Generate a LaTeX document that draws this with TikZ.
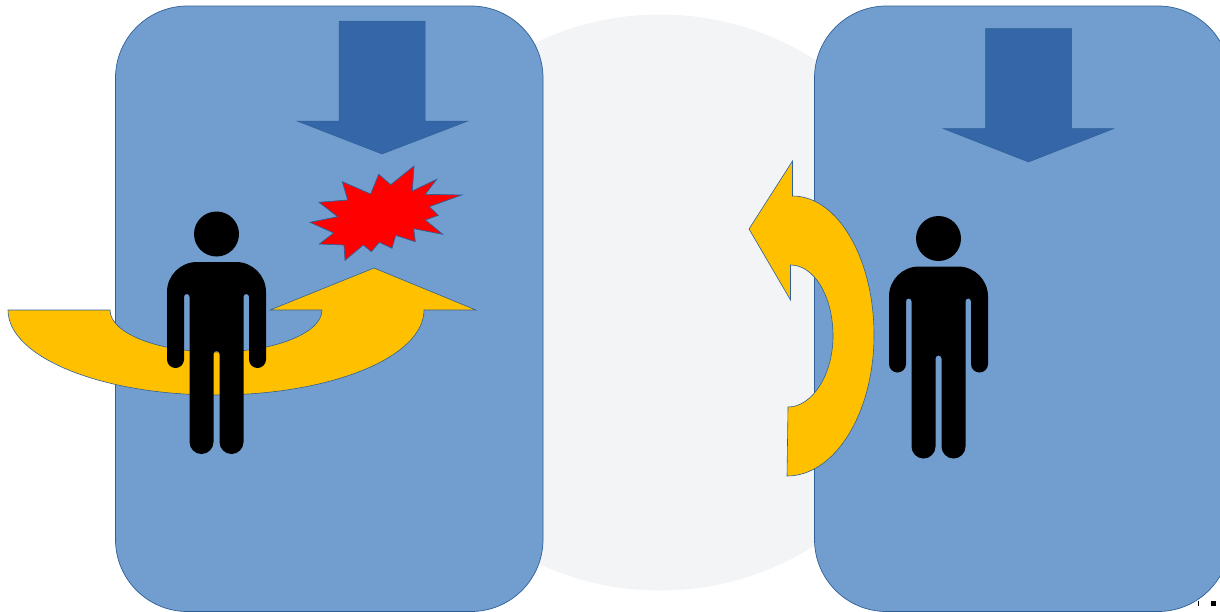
\documentclass[tikz,border=0pt]{standalone}
\usepackage{tikz}
\definecolor{panelblue}{HTML}{729ECF}
\definecolor{edgeblue}{HTML}{2F6097}
\definecolor{dropblue}{HTML}{3566A8}
\definecolor{turngold}{HTML}{FFC000}
\definecolor{backgray}{HTML}{F3F4F6}
\begin{document}
\begin{tikzpicture}[
  x=1pt, y=-1pt,
  backdrop/.style={fill=backgray},
  panel/.style={draw=edgeblue, line width=0.7pt, fill=panelblue, rounded corners=72pt},
  drop/.style={draw=edgeblue, line width=0.5pt, fill=dropblue},
  turn/.style={draw=edgeblue, line width=0.6pt, fill=turngold},
  burst/.style={draw=edgeblue, line width=0.7pt, fill=red},
  pics/person/.style={code={
    \fill (0,0) circle [radius=22.5pt];
    \fill (-49.5,58) arc[start angle=180, end angle=90, radius=30pt] -- (19.5,28)
      arc[start angle=90, end angle=0, radius=30pt] -- (49.5,125.5)
      arc[start angle=0, end angle=-180, radius=8.5pt] -- (32.5,62.75)
      arc[start angle=0, end angle=180, radius=2.75pt] -- (27,208)
      arc[start angle=0, end angle=-180, radius=12pt] -- (3,120)
      arc[start angle=0, end angle=180, radius=3pt] -- (-3,208)
      arc[start angle=0, end angle=-180, radius=12pt] -- (-27,62.75)
      arc[start angle=0, end angle=180, radius=2.75pt] -- (-32.5,125.5)
      arc[start angle=0, end angle=-180, radius=8.5pt] -- cycle;
  }}
]
\useasboundingbox (0,0) rectangle (1220,611);
\clip (0,0) rectangle (1220,611);

\fill[backdrop] (660,302.5) circle [radius=288pt];

\draw[panel] (115.5,6) rectangle (543,611.5);
\draw[panel] (814.5,6) rectangle (1230,611.5);

\draw[drop] (339,21) -- (425,21) -- (425,121) -- (468,121) -- (382,154) -- (297,121) -- (339,121) -- cycle;
\draw[drop] (985.5,28.5) -- (1071.5,28.5) -- (1071.5,128.5) -- (1114,128.5) -- (1028.5,162) -- (943,128.5) -- (985.5,128.5) -- cycle;

\draw[burst] (310,222.3) -- (337.7,216.7) -- (319,202.3) -- (347.7,200) -- (342.3,181.7)
  -- (370.7,194) -- (378.7,174.3) -- (390.7,184.7) -- (414,166) -- (412.3,191)
  -- (436.7,179.3) -- (425.3,194.3) -- (461.7,195) -- (429.3,206.7) -- (438.3,215.3)
  -- (425.3,220) -- (442.7,234.3) -- (413.7,228.7) -- (415.3,241.7) -- (395.7,235.3)
  -- (392,248.3) -- (379.3,242.3) -- (371.3,251.7) -- (363.3,245) -- (345,260.3)
  -- (344,245) -- (319.3,244) -- (333.7,233) -- cycle;

\draw[turn] (8,310) -- (110,310) .. controls (110,333) and (157.5,352) .. (216,352)
  .. controls (274.5,352) and (322,333) .. (322,310) -- (270,310) -- (374,268) -- (476,310) -- (424,310)
  .. controls (424,357) and (331,395) .. (216,395) .. controls (101,395) and (8,357) .. (8,310) -- cycle;
\draw[turn] (790.5,300) -- (749,229) -- (792.5,161) -- (792.5,196)
  .. controls (838,196) and (874,259) .. (874,335) .. controls (874,413) and (835,476) .. (787,476)
  -- (788,407) .. controls (812,407) and (833,375) .. (833,336)
  .. controls (833,296) and (814,265) .. (790.5,265) -- cycle;

\pic at (216.5,234) {person};
\pic at (938.5,238.5) {person};

\fill (1197.5,600.5) rectangle (1198.8,606);
\fill (1211,601) rectangle (1216,606);
\end{tikzpicture}
\end{document}
